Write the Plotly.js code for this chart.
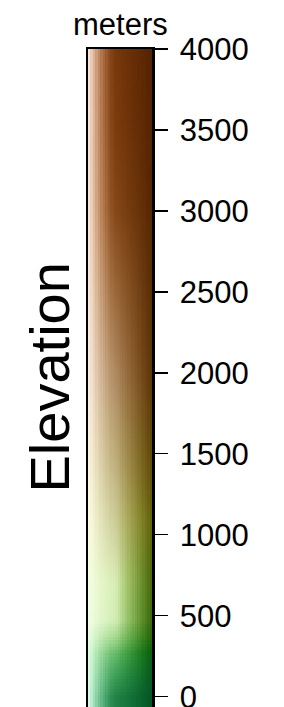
<!DOCTYPE html>
<html><head><meta charset="utf-8">
<script src="https://cdn.plot.ly/plotly-3.0.1.min.js"></script>
<style>html,body{margin:0;padding:0;background:#fff;overflow:hidden}</style>
</head><body><div id="chart" style="width:284px;height:707px"></div>
<script>
// ---- data ----
const tickValues = [0, 500, 1000, 1500, 2000, 2500, 3000, 3500, 4000];
const tickLabels = ['0', '500', '1000', '1500', '2000', '2500', '3000', '3500', '4000'];
// colour table (elevation in metres -> base colour)
const paletteElev = [0, 120, 260, 360, 470, 700, 1000, 1500, 2000, 2500, 3000, 3500, 4000];
const paletteColors = [
  [35,130,72], [60,158,88], [100,185,105], [160,215,140], [210,238,180], [218,238,182],
  [208,212,160], [190,172,122], [175,138,98], [155,104,58], [134,72,24], [124,60,14], [120,56,12]
];
const axisTitle = 'Elevation';
const unitLabel = 'meters';
const elevMin = -63.5, elevMax = 4000;

// ---- colour helpers ----
function baseColor(e) {
  if (e <= paletteElev[0]) return paletteColors[0].slice();
  for (let k = 1; k < paletteElev.length; k++) {
    if (e <= paletteElev[k]) {
      const t = (e - paletteElev[k-1]) / (paletteElev[k] - paletteElev[k-1]);
      return paletteColors[k-1].map((v, j) => v + (paletteColors[k][j] - v) * t);
    }
  }
  return paletteColors[paletteColors.length-1].slice();
}
function rgb2hsv(r, g, b) {
  r/=255; g/=255; b/=255;
  const mx = Math.max(r,g,b), mn = Math.min(r,g,b), d = mx - mn;
  let h = 0;
  if (d > 0) {
    if (mx === r) h = ((g - b) / d) % 6;
    else if (mx === g) h = (b - r) / d + 2;
    else h = (r - g) / d + 4;
    h *= 60; if (h < 0) h += 360;
  }
  return [h, mx === 0 ? 0 : d / mx, mx];
}
function hsv2rgb(h, s, v) {
  const c = v * s, x = c * (1 - Math.abs((h / 60) % 2 - 1)), m = v - c;
  let r=0,g=0,b=0;
  if (h < 60) [r,g,b]=[c,x,0]; else if (h<120) [r,g,b]=[x,c,0]; else if (h<180) [r,g,b]=[0,c,x];
  else if (h<240) [r,g,b]=[0,x,c]; else if (h<300) [r,g,b]=[x,0,c]; else [r,g,b]=[c,0,x];
  return [(r+m)*255, (g+m)*255, (b+m)*255];
}
function illuminate(rgb, i) {
  let [h, s, v] = rgb2hsv(rgb[0], rgb[1], rgb[2]);
  if (i > 0) { s = (1 - i) * s + i * 0.1; v = (1 - i) * v + i * 1.0; }
  else { s = (1 + i) * s - i * 1.0; v = (1 + i) * v - i * 0.3; }
  const c = hsv2rgb(h, Math.min(1, Math.max(0, s)), Math.min(1, Math.max(0, v)));
  return 'rgb(' + c.map(x => Math.round(x)).join(',') + ')';
}
// illumination profile across the bar (left lit, right shaded)
const litU = [0, 0.1, 0.2, 0.35, 0.5, 0.75, 1.0];
const litI = [1.0, 0.72, 0.45, 0.1, -0.1, -0.45, -0.85];
function intensityAt(u) {
  for (let k = 1; k < litU.length; k++) {
    if (u <= litU[k]) return litI[k-1] + (litI[k] - litI[k-1]) * (u - litU[k-1]) / (litU[k] - litU[k-1]);
  }
  return litI[litI.length - 1];
}

// ---- colour-bar grid ----
const levelStep = 20;
const levels = [];
for (let e = -60; e <= elevMax; e += levelStep) levels.push(e);
const nCol = 26;
const cols = Array.from({length: nCol}, (_, c) => c);
const N = levels.length * nCol;
const z = [], cscale = [];
levels.forEach((e, r) => {
  const row = [];
  const base = baseColor(e);
  cols.forEach(c => {
    const idx = r * nCol + c;
    row.push(idx);
    const u = (c + 0.5) / nCol;
    cscale.push([idx / (N - 1), illuminate(base, intensityAt(u))]);
  });
  z.push(row);
});

const trace = {
  type: 'heatmap', x: cols, y: levels, z: z,
  colorscale: cscale, zmin: 0, zmax: N - 1, zsmooth: false,
  showscale: false, hoverinfo: 'skip'
};

const font = 'Liberation Sans, Arial, Helvetica, sans-serif';
const layout = {
  width: 284, height: 707,
  margin: {l: 87.5, r: 131.5, t: 48.5, b: 0, pad: 0},
  paper_bgcolor: '#fff', plot_bgcolor: '#fff',
  showlegend: false,
  xaxis: {
    range: [-0.5, nCol - 0.5], side: 'top', showline: true, linewidth: 2.5, linecolor: '#000',
    showticklabels: false, ticks: '', showgrid: false, zeroline: false, fixedrange: true
  },
  yaxis: {
    range: [elevMin, elevMax], side: 'right', showline: true, mirror: true, linewidth: 2.5, linecolor: '#000',
    tickmode: 'array', tickvals: tickValues, ticktext: tickLabels,
    ticks: 'outside', ticklen: 13, tickwidth: 1.3, tickcolor: '#000',
    ticklabelstandoff: 6, ticklabeloverflow: 'allow',
    tickfont: {family: font, size: 31, color: '#000'},
    showgrid: false, zeroline: false, fixedrange: true
  },
  annotations: [
    {text: unitLabel, xref: 'paper', yref: 'paper', x: 0.5, y: 1, xanchor: 'center', yanchor: 'bottom',
     yshift: 5, showarrow: false, font: {family: font, size: 31, color: '#000'}},
    {text: axisTitle, xref: 'paper', yref: 'paper', x: 0, y: 0.5, xanchor: 'center', yanchor: 'middle',
     xshift: -39.5, textangle: -90, showarrow: false, font: {family: font, size: 56, color: '#000'}}
  ]
};
Plotly.newPlot('chart', [trace], layout, {staticPlot: true, displayModeBar: false});
</script></body></html>
